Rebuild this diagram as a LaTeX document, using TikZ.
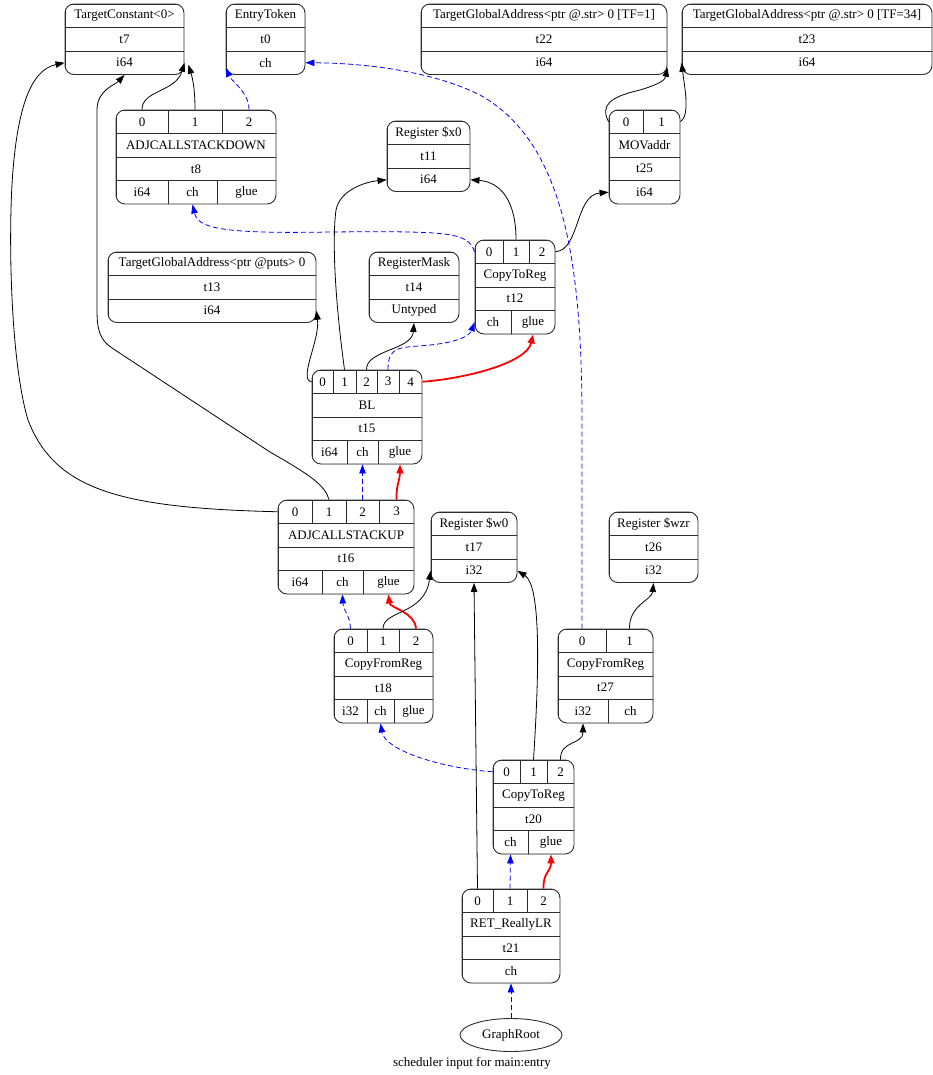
\documentclass[tikz,border=0pt]{standalone}
\usepackage{fontspec}
\setmainfont{Liberation Serif}
\usepackage{tikz}
\usetikzlibrary{arrows.meta, shapes.geometric}
\definecolor{DagBlue}{RGB}{0, 0, 255}
\definecolor{DagRed}{RGB}{255, 0, 0}
\definecolor{DagLine}{RGB}{45, 45, 45}

% record node: name, left, top, right, number of rows, rows of cells (x1/x2/name/text)
\newcommand{\dagrecord}[6]{%
  \pgfmathsetmacro{\recbottom}{#3+#5*23.5}%
  \node[recbox, anchor=north west, minimum width={#4-#2}, minimum height={\recbottom-#3}] (#1) at (#2,#3) {};
  \begin{scope}
    \clip[rounded corners=9pt] (#2,#3) rectangle (#4,\recbottom);
    \foreach \cells [count=\rowi] in {#6} {
      \pgfmathsetmacro{\ytop}{#3+(\rowi-1)*23.5}
      \foreach \xa/\xb/\cid/\ctext in \cells {
        \node[reccell, minimum width={\xb-\xa}] (\cid) at ({(\xa+\xb)/2},{\ytop+11.75}) {\ctext};
      }
    }
  \end{scope}
}

\begin{document}
\begin{tikzpicture}[
    x=1pt, y=-1pt,
    recbox/.style={rectangle, rounded corners=9pt, draw=DagLine, line width=0.9pt,
                   inner sep=0pt, outer sep=0pt},
    reccell/.style={rectangle, draw=DagLine, line width=0.9pt, inner sep=0pt,
                    minimum height=23.5pt, font=\fontsize{13}{15}\selectfont},
    dataedge/.style={draw=black, line width=0.8pt, -{Triangle[length=9pt, width=6.5pt]}},
    chainedge/.style={dataedge, draw=DagBlue, dash pattern=on 5pt off 3pt},
    glueedge/.style={dataedge, draw=DagRed, line width=1.8pt, -{Triangle[length=9pt, width=7pt]}}
]
\useasboundingbox (0,0) rectangle (933,1075);

% Leaves on top
\dagrecord{t7}{65}{4}{184}{3}{{65/184/t7_op/TargetConstant<0>}, {65/184/t7_id/t7}, {65/184/t7_i64/i64}}
\dagrecord{t0}{226}{4}{305}{3}{{226/305/t0_op/EntryToken}, {226/305/t0_id/t0}, {226/305/t0_ch/ch}}
\dagrecord{t22}{421}{4}{667}{3}{{421/667/t22_op/{TargetGlobalAddress<ptr @.str> 0 [TF=1]}}, {421/667/t22_id/t22}, {421/667/t22_i64/i64}}
\dagrecord{t23}{682}{4}{932}{3}{{682/932/t23_op/{TargetGlobalAddress<ptr @.str> 0 [TF=34]}}, {682/932/t23_id/t23}, {682/932/t23_i64/i64}}

% Call sequence
\dagrecord{t8}{116}{110}{276}{4}{{116/168/t8_0/0, 168/222/t8_1/1, 222/276/t8_2/2}, {116/276/t8_op/ADJCALLSTACKDOWN}, {116/276/t8_id/t8}, {116/168/t8_i64/i64, 168/217/t8_ch/ch, 217/276/t8_glue/glue}}
\dagrecord{t11}{387}{121}{470}{3}{{387/470/t11_op/Register \$x0}, {387/470/t11_id/t11}, {387/470/t11_i64/i64}}
\dagrecord{t25}{609}{110}{680}{4}{{609/643/t25_0/0, 643/680/t25_1/1}, {609/680/t25_op/MOVaddr}, {609/680/t25_id/t25}, {609/680/t25_i64/i64}}
\dagrecord{t13}{108}{252}{316}{3}{{108/316/t13_op/{TargetGlobalAddress<ptr @puts> 0}}, {108/316/t13_id/t13}, {108/316/t13_i64/i64}}
\dagrecord{t14}{369}{252}{459}{3}{{369/459/t14_op/RegisterMask}, {369/459/t14_id/t14}, {369/459/t14_ut/Untyped}}
\dagrecord{t12}{475}{240}{555}{4}{{475/503/t12_0/0, 503/529/t12_1/1, 529/555/t12_2/2}, {475/555/t12_op/CopyToReg}, {475/555/t12_id/t12}, {475/511/t12_ch/ch, 511/555/t12_glue/glue}}
\dagrecord{t15}{312}{370}{422}{4}{{312/333/t15_0/0, 333/356/t15_1/1, 356/377/t15_2/2, 377/399/t15_3/3, 399/422/t15_4/4}, {312/422/t15_op/BL}, {312/422/t15_id/t15}, {312/347/t15_i64/i64, 347/378/t15_ch/ch, 378/422/t15_glue/glue}}
\dagrecord{t16}{278}{500}{414}{4}{{278/312/t16_0/0, 312/346/t16_1/1, 346/379/t16_2/2, 379/414/t16_3/3}, {278/414/t16_op/ADJCALLSTACKUP}, {278/414/t16_id/t16}, {278/322/t16_i64/i64, 322/363/t16_ch/ch, 363/414/t16_glue/glue}}

% Return value
\dagrecord{t17}{431}{512}{517}{3}{{431/517/t17_op/Register \$w0}, {431/517/t17_id/t17}, {431/517/t17_i32/i32}}
\dagrecord{t26}{609}{512}{698}{3}{{609/698/t26_op/Register \$wzr}, {609/698/t26_id/t26}, {609/698/t26_i32/i32}}
\dagrecord{t18}{334}{629}{433}{4}{{334/367/t18_0/0, 367/399/t18_1/1, 399/433/t18_2/2}, {334/433/t18_op/CopyFromReg}, {334/433/t18_id/t18}, {334/367/t18_i32/i32, 367/394/t18_ch/ch, 394/433/t18_glue/glue}}
\dagrecord{t27}{558}{629}{653}{4}{{558/606/t27_0/0, 606/653/t27_1/1}, {558/653/t27_op/CopyFromReg}, {558/653/t27_id/t27}, {558/608/t27_i32/i32, 608/653/t27_ch/ch}}
\dagrecord{t20}{493}{760}{574}{4}{{493/520/t20_0/0, 520/547/t20_1/1, 547/574/t20_2/2}, {493/574/t20_op/CopyToReg}, {493/574/t20_id/t20}, {493/528/t20_ch/ch, 528/574/t20_glue/glue}}
\dagrecord{t21}{462}{889}{560}{4}{{462/493/t21_0/0, 493/527/t21_1/1, 527/560/t21_2/2}, {462/560/t21_op/RET\_ReallyLR}, {462/560/t21_id/t21}, {462/560/t21_ch/ch}}

\node[ellipse, draw=DagLine, line width=0.9pt, minimum width=102pt, minimum height=33pt, inner sep=0pt,
      font=\fontsize{13}{15}\selectfont] (root) at (511,1035) {GraphRoot};
\node[font=\fontsize{13}{15}\selectfont] (caption) at (472,1063) {scheduler input for main:entry};

% Edges
\draw[dataedge] (t8_0.north) .. controls (142,90) and (176,92) .. (t7_i64.east);
\draw[dataedge] (t8_1.north) .. controls (195,90) and (193,80) .. ([xshift=4pt, yshift=-2pt]t7_i64.east);
\draw[chainedge] (t8_2.north) .. controls (249,92) and (232,82) .. ([yshift=7pt]t0_ch.south west);
\draw[chainedge] (t12_0.west) .. controls (468,232) and (450,231) .. (330,232) .. controls (220,234) and (198,228) .. (t8_ch.south);
\draw[dataedge] (t12_1.north) .. controls (516,200) and (500,182) .. (t11_i64.east);
\draw[dataedge] (t15_1.north) .. controls (335,300) and (332,240) .. (336,210) .. controls (340,190) and (365,182) .. (t11_i64.west);
\draw[dataedge] (t12_2.east) .. controls (580,250) and (575,195) .. (t25_i64.west);
\draw[dataedge] (t25_0.west) .. controls (600,105) and (610,97) .. (640,90) .. controls (660,84) and (665,80) .. ([yshift=-5pt]t22_i64.east);
\draw[dataedge] (t25_1.east) .. controls (690,115) and (685,90) .. (t23_i64.west);
\draw[dataedge] (t15_0.west) .. controls (298,380) and (320,340) .. (t13_i64.east);
\draw[dataedge] (t15_2.north) .. controls (366,350) and (412,350) .. (t14_ut.south);
\draw[chainedge] (t15_3.north) .. controls (388,345) and (400,348) .. (430,345) .. controls (460,342) and (470,335) .. (t12_ch.west);
\draw[glueedge] (t15_4.east) .. controls (470,378) and (527,362) .. (t12_glue.south);
\draw[dataedge] (t16_0.west) .. controls (120,508) and (55,490) .. (28,420) .. controls (10,360) and (8,230) .. (13,170) .. controls (18,110) and (30,70) .. (t7_i64.west);
\draw[dataedge] (t16_1.north) .. controls (325,485) and (310,475) .. (270,452) -- (112,348) .. controls (100,340) and (97,330) .. (97,310) -- (97,110) .. controls (97,90) and (115,85) .. (t7_i64.south);
\draw[chainedge] (t16_2.north) -- (t15_ch.south);
\draw[glueedge] (t16_3.north) .. controls (396,485) and (400,480) .. (t15_glue.south);
\draw[chainedge] (t18_0.north) .. controls (350,615) and (343,610) .. (t16_ch.south);
\draw[glueedge] (t18_2.north) .. controls (415,612) and (390,608) .. (t16_glue.south);
\draw[dataedge] (t18_1.north) .. controls (383,610) and (425,615) .. (t17_i32.west);
\draw[chainedge] (t27_0.north) -- (582,420) .. controls (582,250) and (560,140) .. (480,95) .. controls (430,70) and (360,63) .. (t0_ch.east);
\draw[dataedge] (t27_1.north) .. controls (629,605) and (652,600) .. (t26_i32.south);
\draw[chainedge] (t20_0.west) .. controls (440,768) and (385,750) .. (t18_ch.south);
\draw[dataedge] (t20_1.north) .. controls (540,660) and (540,585) .. (t17_i32.east);
\draw[dataedge] (t20_2.north) .. controls (560,740) and (583,745) .. (t27_i32.south);
\draw[dataedge] (t21_0.north) -- (t17_i32.south);
\draw[chainedge] (t21_1.north) -- (t20_ch.south);
\draw[glueedge] (t21_2.north) .. controls (543,872) and (551,872) .. (t20_glue.south);
\draw[chainedge] (root.north) -- (t21_ch.south);

\end{tikzpicture}
\end{document}
